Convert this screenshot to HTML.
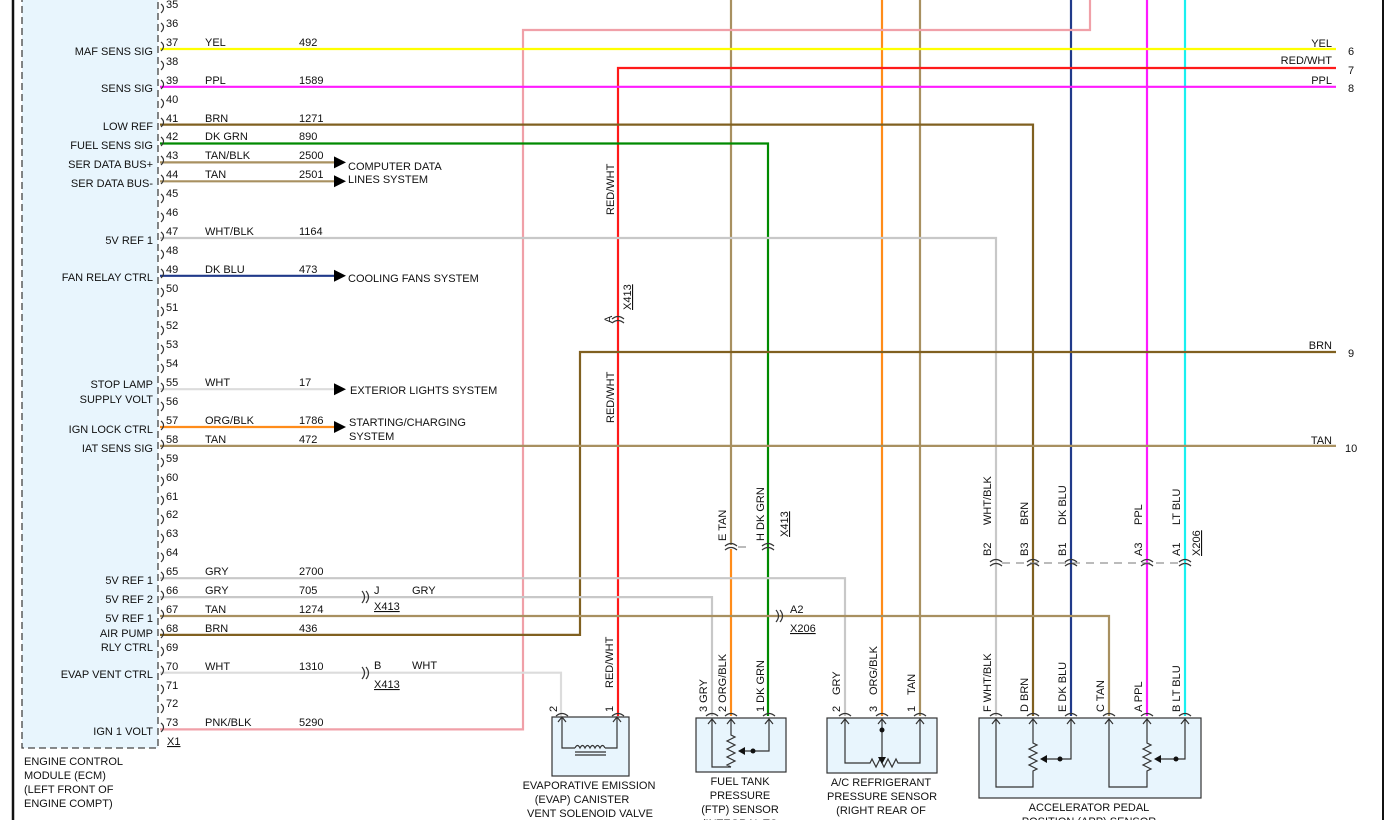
<!DOCTYPE html>
<html><head><meta charset="utf-8"><style>
html,body{margin:0;padding:0;background:#fff;width:1384px;height:820px;overflow:hidden}
svg{display:block}
text{font-family:"Liberation Sans",sans-serif;font-size:11px;fill:#111}
.w{fill:none;stroke-width:2.2}
.k{fill:none;stroke:#333;stroke-width:1.2}
</style></head><body>
<svg width="1384" height="820" viewBox="0 0 1384 820" xmlns="http://www.w3.org/2000/svg">
<line x1="13" y1="0" x2="13" y2="820" stroke="#111" stroke-width="2.5"/>
<line x1="1383" y1="0" x2="1383" y2="820" stroke="#111" stroke-width="2"/>
<rect x="22" y="-5" width="136" height="753" fill="#e8f5fd" stroke="#444" stroke-width="1.3" stroke-dasharray="7,4"/>

<path class="w" stroke="#a89060" d="M731,0V545"/>
<path class="w" stroke="#ff8c1a" d="M731,549V716"/>
<path class="w" stroke="#ff8c1a" d="M882,0V716"/>
<path class="w" stroke="#a89060" d="M920,0V716"/>
<path class="w" stroke="#203a8a" d="M1071,0V716"/>
<path class="w" stroke="#ff1aff" d="M1147,0V716"/>
<path class="w" stroke="#1af0f0" d="M1185,0V716"/>
<path class="w" stroke="#f0a0a8" d="M160,729.4H523V30H1090V0"/>

<path class="w" stroke="#ffff00" d="M160,49H1336"/>
<path class="w" stroke="#ff1a1a" stroke-width="1.6" d="M618,716V68H1336"/>
<path class="w" stroke="#ff1aff" d="M160,86.8H1336"/>
<path class="w" stroke="#806020" d="M160,124.6H1033V716"/>
<path class="w" stroke="#008a00" d="M160,143.5H768V716"/>
<path class="w" stroke="#a89060" d="M160,162.4H334"/>
<path class="w" stroke="#a89060" d="M160,181.3H334"/>
<path class="w" stroke="#c8c8c8" d="M160,238H996V716"/>
<path class="w" stroke="#203a8a" d="M160,275.8H334"/>
<path class="w" stroke="#806020" d="M160,634.9H580V352H1336"/>
<path class="w" stroke="#dcdcdc" d="M160,389.2H334"/>
<path class="w" stroke="#ff8c1a" d="M160,427H334"/>
<path class="w" stroke="#a89060" d="M160,445.9H1336"/>
<path class="w" stroke="#c8c8c8" d="M160,578.2H845V716"/>
<path class="w" stroke="#c8c8c8" d="M160,597.1H712V716"/>
<path class="w" stroke="#a89060" d="M160,616H1109V716"/>
<path class="w" stroke="#dcdcdc" d="M160,672.7H561V716"/>

<g fill="#000">
<path d="M334,156.4L346,162.4L334,168.4Z"/><path d="M334,175.3L346,181.3L334,187.3Z"/>
<path d="M334,269.8L346,275.8L334,281.8Z"/><path d="M334,383.2L346,389.2L334,395.2Z"/>
<path d="M334,421L346,427L334,433Z"/>
</g>
<text x="348" y="170">COMPUTER DATA</text><text x="348" y="183">LINES SYSTEM</text>
<text x="348" y="282">COOLING FANS SYSTEM</text>
<text x="350" y="394">EXTERIOR LIGHTS SYSTEM</text>
<text x="349" y="426">STARTING/CHARGING</text><text x="349" y="440">SYSTEM</text>

<g text-anchor="end"><text x="1332" y="47">YEL</text><text x="1332" y="64">RED/WHT</text><text x="1332" y="84">PPL</text><text x="1332" y="349">BRN</text><text x="1332" y="444">TAN</text></g>
<text x="1348" y="55">6</text><text x="1348" y="74">7</text><text x="1348" y="92">8</text><text x="1348" y="357">9</text><text x="1345" y="452">10</text>

<g>
<text x="166" y="8">35</text><text x="166" y="27">36</text><text x="166" y="46">37</text><text x="166" y="65">38</text><text x="166" y="84">39</text><text x="166" y="103">40</text><text x="166" y="122">41</text><text x="166" y="140">42</text><text x="166" y="159">43</text><text x="166" y="178">44</text><text x="166" y="197">45</text><text x="166" y="216">46</text><text x="166" y="235">47</text><text x="166" y="254">48</text><text x="166" y="273">49</text><text x="166" y="292">50</text><text x="166" y="311">51</text><text x="166" y="329">52</text><text x="166" y="348">53</text><text x="166" y="367">54</text><text x="166" y="386">55</text><text x="166" y="405">56</text><text x="166" y="424">57</text><text x="166" y="443">58</text><text x="166" y="462">59</text><text x="166" y="481">60</text><text x="166" y="500">61</text><text x="166" y="518">62</text><text x="166" y="537">63</text><text x="166" y="556">64</text><text x="166" y="575">65</text><text x="166" y="594">66</text><text x="166" y="613">67</text><text x="166" y="632">68</text><text x="166" y="651">69</text><text x="166" y="670">70</text><text x="166" y="689">71</text><text x="166" y="707">72</text><text x="166" y="726">73</text>
</g>
<g class="k" stroke="#444">
<path d="M161,4q5,4 0,9M161,23q5,4 0,9M161,42q5,4 0,9M161,61q5,4 0,9M161,80q5,4 0,9M161,99q5,4 0,9M161,118q5,4 0,9M161,137q5,4 0,9M161,156q5,4 0,9M161,175q5,4 0,9M161,194q5,4 0,9M161,213q5,4 0,9M161,232q5,4 0,9M161,250q5,4 0,9M161,269q5,4 0,9M161,288q5,4 0,9M161,307q5,4 0,9M161,326q5,4 0,9M161,345q5,4 0,9M161,364q5,4 0,9M161,383q5,4 0,9M161,402q5,4 0,9M161,421q5,4 0,9M161,440q5,4 0,9M161,458q5,4 0,9M161,477q5,4 0,9M161,496q5,4 0,9M161,515q5,4 0,9M161,534q5,4 0,9M161,553q5,4 0,9M161,572q5,4 0,9M161,591q5,4 0,9M161,610q5,4 0,9M161,629q5,4 0,9M161,647q5,4 0,9M161,666q5,4 0,9M161,685q5,4 0,9M161,704q5,4 0,9M161,723q5,4 0,9"/>
</g>
<text x="167" y="745" text-decoration="underline">X1</text>

<g>
<text x="205" y="46">YEL</text><text x="299" y="46">492</text>
<text x="205" y="84">PPL</text><text x="299" y="84">1589</text>
<text x="205" y="122">BRN</text><text x="299" y="122">1271</text>
<text x="205" y="140">DK GRN</text><text x="299" y="140">890</text>
<text x="205" y="159">TAN/BLK</text><text x="299" y="159">2500</text>
<text x="205" y="178">TAN</text><text x="299" y="178">2501</text>
<text x="205" y="235">WHT/BLK</text><text x="299" y="235">1164</text>
<text x="205" y="273">DK BLU</text><text x="299" y="273">473</text>
<text x="205" y="386">WHT</text><text x="299" y="386">17</text>
<text x="205" y="424">ORG/BLK</text><text x="299" y="424">1786</text>
<text x="205" y="443">TAN</text><text x="299" y="443">472</text>
<text x="205" y="575">GRY</text><text x="299" y="575">2700</text>
<text x="205" y="594">GRY</text><text x="299" y="594">705</text>
<text x="205" y="613">TAN</text><text x="299" y="613">1274</text>
<text x="205" y="632">BRN</text><text x="299" y="632">436</text>
<text x="205" y="670">WHT</text><text x="299" y="670">1310</text>
<text x="205" y="726">PNK/BLK</text><text x="299" y="726">5290</text>
</g>
<g text-anchor="end">
<text x="153" y="55">MAF SENS SIG</text><text x="153" y="92">SENS SIG</text><text x="153" y="130">LOW REF</text>
<text x="153" y="149">FUEL SENS SIG</text><text x="153" y="168">SER DATA BUS+</text><text x="153" y="187">SER DATA BUS-</text>
<text x="153" y="244">5V REF 1</text><text x="153" y="281">FAN RELAY CTRL</text>
<text x="153" y="388">STOP LAMP</text><text x="153" y="403">SUPPLY VOLT</text>
<text x="153" y="433">IGN LOCK CTRL</text><text x="153" y="452">IAT SENS SIG</text>
<text x="153" y="584">5V REF 1</text><text x="153" y="603">5V REF 2</text><text x="153" y="622">5V REF 1</text>
<text x="153" y="637">AIR PUMP</text><text x="153" y="651">RLY CTRL</text>
<text x="153" y="678">EVAP VENT CTRL</text><text x="153" y="735">IGN 1 VOLT</text>
</g>
<text x="24" y="765">ENGINE CONTROL</text><text x="24" y="779">MODULE (ECM)</text><text x="24" y="793">(LEFT FRONT OF</text><text x="24" y="807">ENGINE COMPT)</text>

<g class="k" stroke="#555">
<path d="M362,591q5,6 0,12M366,591q5,6 0,12M362,667q5,6 0,12M366,667q5,6 0,12M776,610q5,6 0,12M780,610q5,6 0,12"/>
</g>
<text x="374" y="594">J</text><text x="412" y="594">GRY</text><text x="374" y="610" text-decoration="underline">X413</text>
<text x="374" y="669">B</text><text x="412" y="669">WHT</text><text x="374" y="688" text-decoration="underline">X413</text>
<text x="790" y="613">A2</text><text x="790" y="632" text-decoration="underline">X206</text>

<g class="k" stroke="#555">
<path d="M612,319q6,-5 12,0M612,323q6,-5 12,0"/>
<path d="M725,546q6,-5 12,0M725,550q6,-5 12,0M762,546q6,-5 12,0M762,550q6,-5 12,0"/>
<path d="M990,562q6,-5 12,0M990,566q6,-5 12,0M1027,562q6,-5 12,0M1027,566q6,-5 12,0M1065,562q6,-5 12,0M1065,566q6,-5 12,0M1141,562q6,-5 12,0M1141,566q6,-5 12,0M1179,562q6,-5 12,0M1179,566q6,-5 12,0"/>
</g>
<path d="M738,547H750M1002,563H1185" stroke="#777" stroke-width="1" stroke-dasharray="8,6" fill="none"/>

<g>
<text transform="translate(614,215) rotate(-90)">RED/WHT</text>
<text transform="translate(612,323) rotate(-90)">A</text>
<text transform="translate(631,310) rotate(-90)" text-decoration="underline">X413</text>
<text transform="translate(614,423) rotate(-90)">RED/WHT</text>
<text transform="translate(726,541) rotate(-90)">E  TAN</text>
<text transform="translate(764,541) rotate(-90)">H  DK GRN</text>
<text transform="translate(788,537) rotate(-90)" text-decoration="underline">X413</text>
<text transform="translate(991,556) rotate(-90)">B2</text><text transform="translate(991,525) rotate(-90)">WHT/BLK</text>
<text transform="translate(1028,556) rotate(-90)">B3</text><text transform="translate(1028,525) rotate(-90)">BRN</text>
<text transform="translate(1066,556) rotate(-90)">B1</text><text transform="translate(1066,525) rotate(-90)">DK BLU</text>
<text transform="translate(1142,556) rotate(-90)">A3</text><text transform="translate(1142,525) rotate(-90)">PPL</text>
<text transform="translate(1180,556) rotate(-90)">A1</text><text transform="translate(1180,525) rotate(-90)">LT BLU</text>
<text transform="translate(1200,556) rotate(-90)" text-decoration="underline">X206</text>
<text transform="translate(557,712) rotate(-90)">2</text>
<text transform="translate(613,712) rotate(-90)">1</text><text transform="translate(613,688) rotate(-90)">RED/WHT</text>
<text transform="translate(707,712) rotate(-90)">3  GRY</text>
<text transform="translate(726,712) rotate(-90)">2  ORG/BLK</text>
<text transform="translate(764,712) rotate(-90)">1  DK GRN</text>
<text transform="translate(840,712) rotate(-90)">2</text><text transform="translate(840,695) rotate(-90)">GRY</text>
<text transform="translate(877,712) rotate(-90)">3</text><text transform="translate(877,695) rotate(-90)">ORG/BLK</text>
<text transform="translate(915,712) rotate(-90)">1</text><text transform="translate(915,695) rotate(-90)">TAN</text>
<text transform="translate(991,712) rotate(-90)">F  WHT/BLK</text>
<text transform="translate(1028,712) rotate(-90)">D  BRN</text>
<text transform="translate(1066,712) rotate(-90)">E  DK BLU</text>
<text transform="translate(1104,712) rotate(-90)">C  TAN</text>
<text transform="translate(1142,712) rotate(-90)">A  PPL</text>
<text transform="translate(1180,712) rotate(-90)">B  LT BLU</text>
</g>

<g fill="#e8f5fd" stroke="#333" stroke-width="1.2">
<rect x="552" y="717" width="77" height="59"/>
<rect x="696" y="718" width="90" height="54"/>
<rect x="827" y="718" width="110" height="55"/>
<rect x="979" y="718" width="222" height="80"/>
</g>
<g class="k" stroke="#555">
<path d="M556,716q6,-5 12,0M612,716q6,-5 12,0M706,716q6,-5 12,0M725,716q6,-5 12,0M763,716q6,-5 12,0M839,716q6,-5 12,0M876,716q6,-5 12,0M914,716q6,-5 12,0M990,716q6,-5 12,0M1027,716q6,-5 12,0M1065,716q6,-5 12,0M1103,716q6,-5 12,0M1141,716q6,-5 12,0M1179,716q6,-5 12,0"/>
</g>
<g class="k">
<path d="M562,717V748H575M605,748H617V717M558,722l4,-5l4,5M613,722l4,-5l4,5"/>
<path d="M575,748q2.5,-5 5,0q2.5,-5 5,0q2.5,-5 5,0q2.5,-5 5,0q2.5,-5 5,0q2.5,-5 5,0"/>
<path d="M575,752H606M575,755H606"/>
<path d="M712,719V767H731M731,719V735l4,2l-8,4l8,4l-8,4l8,4l-8,4l8,4l-8,4l4,2M769,719V751H742M708,724l4,-5l4,5M727,724l4,-5l4,5M765,724l4,-5l4,5"/>
<path d="M845,719V763H870l2,-4l4,8l4,-8l4,8l4,-8l4,8l4,-8l2,4H920V719M882,719V757M841,724l4,-5l4,5M878,724l4,-5l4,5M916,724l4,-5l4,5"/>
<path d="M996,719V787H1033V771l4,-2l-8,-4l8,-4l-8,-4l8,-4l-8,-4l8,-4l-4,-2V719M1071,719V759H1044M1109,719V787H1147V771l4,-2l-8,-4l8,-4l-8,-4l8,-4l-8,-4l8,-4l-4,-2V719M1185,719V759H1158M992,724l4,-5l4,5M1029,724l4,-5l4,5M1067,724l4,-5l4,5M1105,724l4,-5l4,5M1143,724l4,-5l4,5M1181,724l4,-5l4,5"/>
</g>
<g fill="#111">
<path d="M738,751l7,-4v8z"/><circle cx="753" cy="751" r="2.5"/>
<path d="M882,764l-4,-7h8z"/><circle cx="882" cy="730" r="2.5"/>
<path d="M1040,759l7,-4v8z"/><circle cx="1060" cy="759" r="2.5"/>
<path d="M1154,759l7,-4v8z"/><circle cx="1176" cy="759" r="2.5"/>
</g>
<g text-anchor="middle">
<text x="589" y="789">EVAPORATIVE EMISSION</text><text x="582" y="803">(EVAP) CANISTER</text><text x="590" y="817">VENT SOLENOID VALVE</text>
<text x="740" y="785">FUEL TANK</text><text x="740" y="799">PRESSURE</text><text x="740" y="813">(FTP) SENSOR</text><text x="740" y="827">(INTEGRAL TO</text>
<text x="881" y="786">A/C REFRIGERANT</text><text x="882" y="800">PRESSURE SENSOR</text><text x="881" y="814">(RIGHT REAR OF</text>
<text x="1089" y="811">ACCELERATOR PEDAL</text><text x="1089" y="825">POSITION (APP) SENSOR</text>
</g>
</svg>
</body></html>
